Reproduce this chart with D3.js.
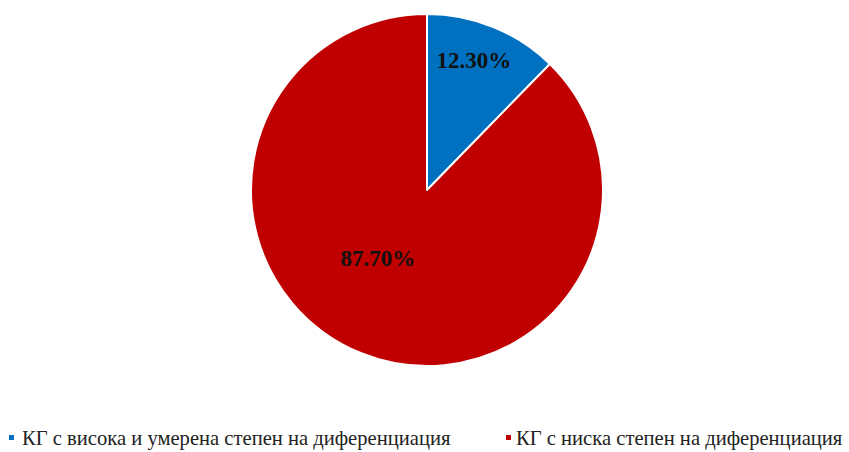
<!DOCTYPE html>
<html>
<head>
<meta charset="utf-8">
<script src="https://cdn.jsdelivr.net/npm/d3@7"></script>
<style>
  html, body { margin: 0; padding: 0; background: #fff; }
  svg { display: block; }
</style>
</head>
<body>
<svg id="chart" width="849" height="452"></svg>
<script>
// Category names and their shares (percent)
const categories = [
  "КГ с висока и умерена степен на диференциация",
  "КГ с ниска степен на диференциация"
];
const values = [12.3, 87.7];
const valueLabels = ["12.30%", "87.70%"];
const colors = ["#0070C0", "#C00000"];

const svg = d3.select("#chart");
const cx = 427, cy = 190, radius = 176;

const pie = d3.pie().sort(null).value(d => d.value);
const arcs = pie(categories.map((c, i) => ({ name: c, value: values[i], label: valueLabels[i] })));

const arc = d3.arc().innerRadius(0).outerRadius(radius);
const g = svg.append("g").attr("transform", `translate(${cx},${cy})`);

g.selectAll("path.slice")
  .data(arcs)
  .join("path")
  .attr("class", "slice")
  .attr("d", arc)
  .attr("fill", (d, i) => colors[i])
  .attr("stroke", "#fff")
  .attr("stroke-width", 2)
  .attr("stroke-linejoin", "round");

// Label placement: distance from centre and angular shift per slice
const labelPlacement = [
  { r: 138, shift: -0.04 },
  { r: 84, shift: 0.24 }
];

g.selectAll("text.value")
  .data(arcs)
  .join("text")
  .attr("class", "value")
  .each(function (d, i) {
    const p = labelPlacement[i];
    const a = (d.startAngle + d.endAngle) / 2 + p.shift;
    d3.select(this)
      .attr("x", p.r * Math.sin(a))
      .attr("y", -p.r * Math.cos(a));
  })
  .attr("text-anchor", "middle")
  .attr("dominant-baseline", "central")
  .attr("font-family", "'Liberation Serif', 'Times New Roman', serif")
  .attr("font-weight", "bold")
  .attr("font-size", 23)
  .attr("fill", "#111")
  .text(d => d.data.label);

// Legend
const legendX = [9, 506];
const legend = svg.append("g");
const items = legend.selectAll("g.item")
  .data(categories)
  .join("g")
  .attr("class", "item")
  .attr("transform", (d, i) => `translate(${legendX[i]},0)`);

items.append("rect")
  .attr("x", 0).attr("y", 435)
  .attr("width", 5).attr("height", 5)
  .attr("fill", (d, i) => colors[i]);

items.append("text")
  .attr("x", (d, i) => i === 0 ? 13 : 10).attr("y", 445)
  .attr("font-family", "'Liberation Serif', 'Times New Roman', serif")
  .attr("font-size", 20.6)
  .attr("fill", "#222")
  .text(d => d);
</script>
</body>
</html>
